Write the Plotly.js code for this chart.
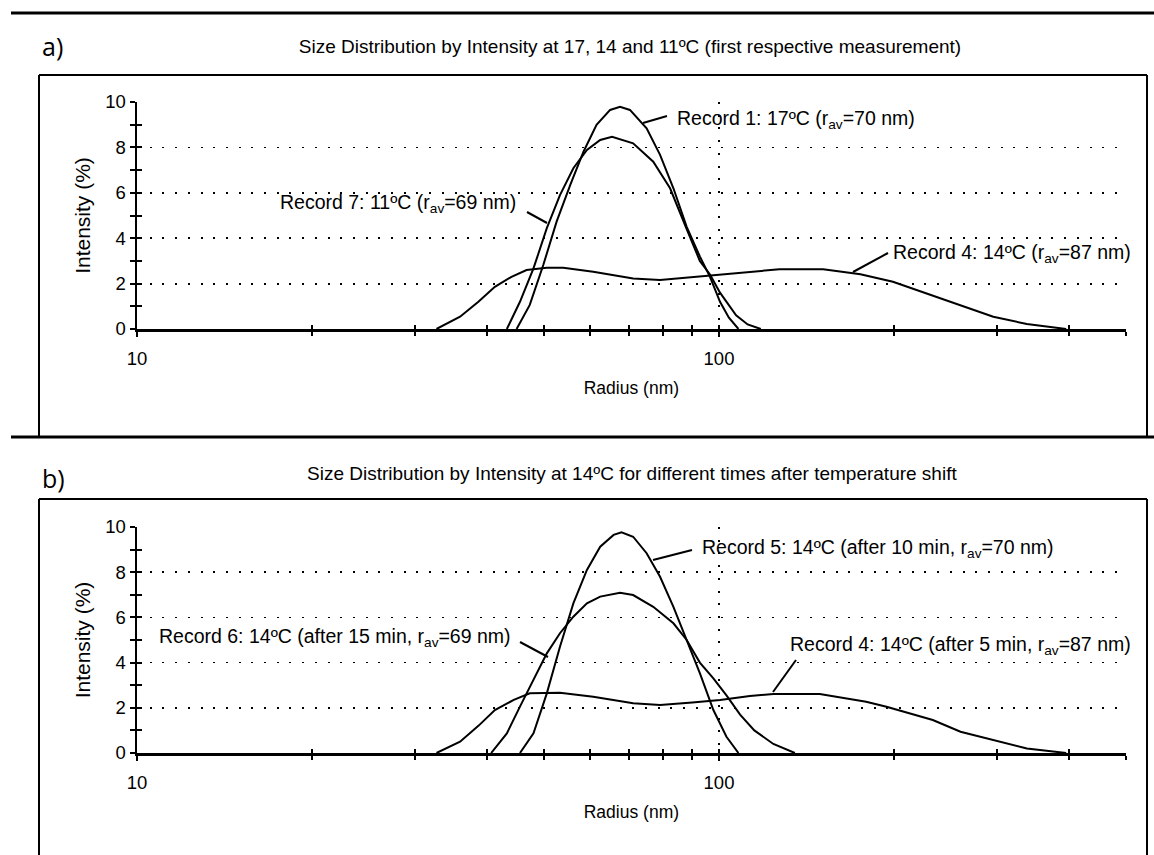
<!DOCTYPE html>
<html>
<head>
<meta charset="utf-8">
<script src="https://cdn.plot.ly/plotly-3.0.1.min.js"></script>
<style>html,body{margin:0;padding:0;background:#fff;}#chart{width:1154px;height:855px;}</style>
</head>
<body>
<div id="chart"></div>
<script>
// ---------- Data (radius in nm, intensity in %) ----------
// Panel a
const a_rec1_radius = [44.9, 47.3, 49.9, 52.6, 55.5, 58.5, 61.6, 65.0, 67.6, 70.3, 75.1, 79.2, 83.5, 88.0, 92.7, 96.5, 100.4, 104, 108];
const a_rec1_intensity = [0, 1.06, 2.82, 4.73, 6.34, 7.81, 8.99, 9.65, 9.79, 9.65, 8.84, 7.67, 6.2, 4.5, 3.2, 2.3, 1.2, 0.5, 0];
const a_rec7_radius = [43.2, 45.5, 48.0, 50.6, 53.3, 56.2, 59.3, 62.5, 65.5, 71.2, 77.1, 82.4, 88.0, 92.7, 96.5, 100.4, 107, 112, 118];
const a_rec7_intensity = [0, 1.2, 2.67, 4.44, 5.9, 7.08, 7.89, 8.33, 8.47, 8.18, 7.37, 6.2, 4.4, 3.0, 2.4, 1.6, 0.6, 0.2, 0];
const a_rec4_radius = [32.7, 35.9, 38.6, 41.2, 44.0, 46.7, 50.6, 54.0, 60.8, 71.2, 79.2, 88.0, 97.8, 108.7, 127, 151, 175, 199, 227, 260, 296, 338, 375, 395];
const a_rec4_intensity = [0, 0.54, 1.2, 1.86, 2.3, 2.6, 2.7, 2.7, 2.52, 2.23, 2.16, 2.26, 2.38, 2.48, 2.63, 2.63, 2.41, 2.08, 1.57, 1.06, 0.54, 0.22, 0.07, 0];
// Panel b
const b_rec5_radius = [45.5, 48.0, 50.6, 53.3, 56.2, 59.3, 62.5, 65.9, 68.0, 71.2, 75.1, 79.2, 83.5, 88.0, 92.7, 97.8, 103, 108];
const b_rec5_intensity = [0, 0.87, 2.64, 4.7, 6.62, 8.1, 9.13, 9.65, 9.77, 9.57, 8.84, 7.8, 6.47, 5.0, 3.53, 1.9, 0.72, 0];
const b_rec6_radius = [40.6, 43.2, 45.5, 48.0, 50.6, 53.3, 56.2, 59.3, 62.5, 67.6, 71.2, 77.1, 83.5, 88.0, 92.7, 97.8, 103, 108.7, 115, 124, 135];
const b_rec6_intensity = [0, 0.87, 2.05, 3.23, 4.41, 5.3, 6.03, 6.62, 6.92, 7.09, 6.99, 6.47, 5.74, 5.0, 4.0, 3.3, 2.55, 1.7, 1.0, 0.4, 0];
const b_rec4_radius = [32.7, 35.9, 38.6, 41.2, 44.4, 47.3, 53.3, 60.8, 71.2, 79.2, 90.0, 100.4, 113, 124, 149, 179, 194, 233, 260, 302, 338, 395];
const b_rec4_intensity = [0, 0.5, 1.2, 1.9, 2.35, 2.64, 2.67, 2.49, 2.2, 2.12, 2.23, 2.35, 2.52, 2.61, 2.61, 2.27, 2.05, 1.46, 0.94, 0.5, 0.2, 0];

// Axis ticks
const xMajorTicks = [10, 100];
const xMajorLabels = ['10', '100'];
const xMinorTicks = [20, 30, 40, 50, 60, 70, 80, 90, 200, 300, 400, 500];
const yMajorTicks = [0, 2, 4, 6, 8, 10];
const xRangeNm = [10, 500];
const yRange = [0, 10];

// Text
const titleA = 'Size Distribution by Intensity at 17, 14 and 11ºC (first respective measurement)';
const titleB = 'Size Distribution by Intensity at 14ºC for different times after temperature shift';
const labelsA = ['Record 1: 17ºC (r<sub>av</sub>=70 nm)', 'Record 7: 11ºC (r<sub>av</sub>=69 nm)', 'Record 4: 14ºC (r<sub>av</sub>=87 nm)'];
const labelsB = ['Record 5: 14ºC (after 10 min, r<sub>av</sub>=70 nm)', 'Record 6: 14ºC (after 15 min, r<sub>av</sub>=69 nm)', 'Record 4: 14ºC (after 5 min, r<sub>av</sub>=87 nm)'];

// ---------- Layout helpers ----------
const W = 1154, H = 855;
const px = v => v / W;
const py = v => 1 - v / H;
const FONT = 'Liberation Sans, Arial, sans-serif';
const lineStyle = {color: '#000', width: 2};

function curve(x, y, xa, ya, name) {
  return {x: x, y: y, xaxis: xa, yaxis: ya, type: 'scatter', mode: 'lines', line: lineStyle, name: name, showlegend: false, hoverinfo: 'x+y'};
}

const data = [
  curve(a_rec4_radius, a_rec4_intensity, 'x', 'y', 'Record 4'),
  curve(a_rec7_radius, a_rec7_intensity, 'x', 'y', 'Record 7'),
  curve(a_rec1_radius, a_rec1_intensity, 'x', 'y', 'Record 1'),
  curve(b_rec4_radius, b_rec4_intensity, 'x2', 'y2', 'Record 4'),
  curve(b_rec6_radius, b_rec6_intensity, 'x2', 'y2', 'Record 6'),
  curve(b_rec5_radius, b_rec5_intensity, 'x2', 'y2', 'Record 5'),
  // empty traces so the overlay (inner-tick) axes are drawn
  {x: [], y: [], xaxis: 'x3', yaxis: 'y3', type: 'scatter', showlegend: false},
  {x: [], y: [], xaxis: 'x4', yaxis: 'y4', type: 'scatter', showlegend: false}
];

const xDomain = [px(137), px(1125.8)];
const logRange = [Math.log10(xRangeNm[0]), Math.log10(xRangeNm[1])];
const dotDash = '2px,10.7px';

function xAxis(anchor, withTitle) {
  return {
    type: 'log', range: logRange, domain: xDomain, anchor: anchor,
    showline: true, linecolor: '#000', linewidth: 2.5,
    tickmode: 'array', tickvals: xMajorTicks, ticktext: xMajorLabels,
    ticks: 'outside', ticklen: 5, tickwidth: 2, tickcolor: '#000',
    tickfont: {family: FONT, size: 18.5, color: '#000'}, ticklabelstandoff: 6,
    showgrid: true, gridcolor: '#000', gridwidth: 1.8, griddash: dotDash,
    zeroline: false,
    minor: {tickmode: 'array', tickvals: xMinorTicks, ticks: 'outside', ticklen: 4, tickwidth: 2, tickcolor: '#000', showgrid: false},
    title: withTitle ? {text: 'Radius (nm)', font: {family: FONT, size: 17.5, color: '#000'}, standoff: 14} : undefined,
    fixedrange: true
  };
}
function yAxis(domain, anchor) {
  return {
    range: yRange, domain: domain, anchor: anchor,
    showline: true, linecolor: '#000', linewidth: 2.5,
    tickmode: 'array', tickvals: yMajorTicks,
    ticks: 'outside', ticklen: 5, tickwidth: 2, tickcolor: '#000',
    tickfont: {family: FONT, size: 18.5, color: '#000'}, ticklabelstandoff: 0,
    showgrid: true, gridcolor: '#000', gridwidth: 1.8, griddash: dotDash,
    zeroline: false,
    minor: {dtick: 1, ticks: 'outside', ticklen: 5, tickwidth: 2, tickcolor: '#000', showgrid: false},
    title: {text: 'Intensity (%)', font: {family: FONT, size: 21, color: '#000'}, standoff: 9},
    fixedrange: true
  };
}
function innerX(overlay, anchor) {
  return {
    type: 'log', range: logRange, domain: xDomain, overlaying: overlay, anchor: anchor,
    showline: false, showgrid: false, zeroline: false, showticklabels: false,
    tickmode: 'array', tickvals: xMajorTicks, ticks: 'inside', ticklen: 4, tickwidth: 2, tickcolor: '#000',
    minor: {tickmode: 'array', tickvals: xMinorTicks, ticks: 'inside', ticklen: 4, tickwidth: 2, tickcolor: '#000', showgrid: false},
    fixedrange: true
  };
}
function innerY(overlay, anchor) {
  return {
    range: yRange, overlaying: overlay, anchor: anchor,
    showline: false, showgrid: false, zeroline: false, showticklabels: false,
    tickmode: 'array', tickvals: yMajorTicks, ticks: 'inside', ticklen: 5, tickwidth: 2, tickcolor: '#000',
    minor: {dtick: 1, ticks: 'inside', ticklen: 5, tickwidth: 2, tickcolor: '#000', showgrid: false},
    fixedrange: true
  };
}

const yDomA = [py(329), py(102)];
const yDomB = [py(753), py(527)];

function textAnn(text, x, y, xanchor, size, family) {
  return {text: text, xref: 'paper', yref: 'paper', x: px(x), y: py(y), xanchor: xanchor, yanchor: 'middle',
          showarrow: false, font: {family: family || FONT, size: size, color: '#000'}};
}
function seg(x0, y0, x1, y1, w) {
  return {type: 'line', xref: 'paper', yref: 'paper', x0: px(x0), y0: py(y0), x1: px(x1), y1: py(y1), line: {color: '#000', width: w}};
}

const LBL = 19.5;
const layout = {
  width: W, height: H,
  margin: {l: 0, r: 0, t: 0, b: 0},
  paper_bgcolor: '#fff', plot_bgcolor: 'rgba(0,0,0,0)',
  showlegend: false,
  title: {text: titleA, x: px(630), y: py(46), xref: 'paper', yref: 'paper', xanchor: 'center', yanchor: 'middle',
          font: {family: FONT, size: 19, color: '#000'}},
  xaxis: xAxis('y', true),
  yaxis: yAxis(yDomA, 'x'),
  xaxis2: xAxis('y2', true),
  yaxis2: yAxis(yDomB, 'x2'),
  xaxis3: innerX('x', 'y'),
  yaxis3: innerY('y', 'x'),
  xaxis4: innerX('x2', 'y2'),
  yaxis4: innerY('y2', 'x2'),
  annotations: [
    textAnn('a)', 40, 46, 'left', 25, 'Open Sans, Noto Sans, sans-serif'),
    textAnn('b)', 40, 478, 'left', 25, 'Open Sans, Noto Sans, sans-serif'),
    textAnn(titleB, 632, 474, 'center', 19),
    textAnn(labelsA[0], 675, 119, 'left', LBL),
    textAnn(labelsA[1], 518, 203, 'right', LBL),
    textAnn(labelsA[2], 891, 253, 'left', LBL),
    textAnn(labelsB[0], 700, 548, 'left', LBL),
    textAnn(labelsB[1], 157, 637, 'left', LBL),
    textAnn(labelsB[2], 788, 645, 'left', LBL)
  ],
  shapes: [
    // frame lines
    seg(11, 13, 1154, 13, 3),
    seg(11, 437, 1154, 437, 3),
    seg(39, 75, 1147, 75, 2),
    seg(39, 75, 39, 437, 2),
    seg(1147, 75, 1147, 437, 2),
    seg(39, 499, 1147, 499, 2),
    seg(39, 499, 39, 860, 2),
    seg(1147, 499, 1147, 860, 2),
    // label leader lines
    seg(643, 123, 667, 116, 2),
    seg(527, 212, 547, 223, 2),
    seg(853, 272, 888, 253, 2),
    seg(653, 560, 692, 550, 2),
    seg(520, 642, 548, 657, 2),
    seg(796, 660, 773, 692, 2)
  ]
};

Plotly.newPlot('chart', data, layout, {staticPlot: true, displayModeBar: false});
</script>
</body>
</html>
